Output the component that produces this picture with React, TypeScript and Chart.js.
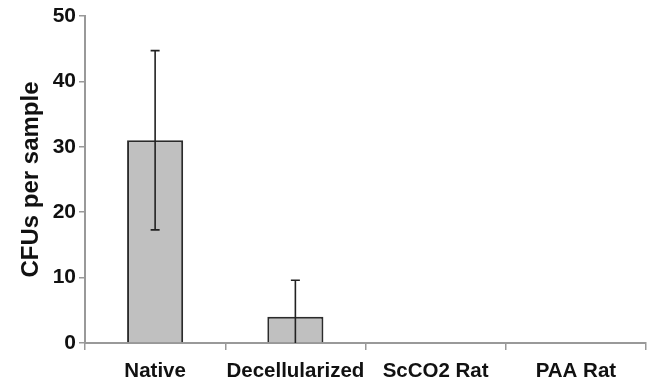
import React, { useEffect, useRef } from "react";
import { Chart, registerables } from "chart.js";

Chart.register(...registerables);

const categories = ["Native", "Decellularized", "ScCO2 Rat", "PAA Rat"];
const values = [31, 4, 0, 0];
const errors = [13.7, 5.6, 0, 0];
const yTicks = [0, 10, 20, 30, 40, 50];

const errorBarPlugin = {
  id: "errorBars",
  afterDatasetsDraw(chart: any) {
    const { ctx, chartArea } = chart;
    const meta = chart.getDatasetMeta(0);
    const y = chart.scales.y;
    ctx.save();
    ctx.beginPath();
    ctx.rect(chartArea.left, chartArea.top, chartArea.right - chartArea.left, chartArea.bottom - chartArea.top);
    ctx.clip();
    ctx.strokeStyle = "#222";
    ctx.lineWidth = 1.6;
    meta.data.forEach((bar: any, i: number) => {
      const e = errors[i];
      if (!e) return;
      const x = bar.x;
      const top = y.getPixelForValue(values[i] + e);
      const low = y.getPixelForValue(values[i] - e);
      ctx.beginPath();
      ctx.moveTo(x, top);
      ctx.lineTo(x, low);
      ctx.moveTo(x - 4.5, top);
      ctx.lineTo(x + 4.5, top);
      ctx.moveTo(x - 4.5, low);
      ctx.lineTo(x + 4.5, low);
      ctx.stroke();
    });
    ctx.restore();
  },
};

export default function App() {
  const ref = useRef<HTMLCanvasElement>(null);
  useEffect(() => {
    const font = "'Liberation Sans', Arial, sans-serif";
    const chart = new Chart(ref.current!, {
      type: "bar",
      data: {
        labels: categories,
        datasets: [
          {
            data: values,
            backgroundColor: "#c0c0c0",
            borderColor: "#2b2b2b",
            borderWidth: 2,
            barPercentage: 0.4,
            categoryPercentage: 1,
          },
        ],
      },
      options: {
        animation: false,
        responsive: false,
        maintainAspectRatio: false,
        layout: { padding: { top: 16, right: 3, left: 0, bottom: 0 } },
        plugins: { legend: { display: false }, tooltip: { enabled: false } },
        scales: {
          x: {
            offset: true,
            grid: {
              offset: true,
              drawOnChartArea: false,
              drawTicks: true,
              tickLength: 7,
              color: "#999",
              lineWidth: 1.5,
            },
            border: { display: true, color: "#999", width: 2 },
            ticks: {
              color: "#111",
              font: { family: font, size: 20.5, weight: "bold" },
              padding: 9,
              maxRotation: 0,
              autoSkip: false,
            },
            afterFit(scale: any) {
              scale.height = 41;
            },
          },
          y: {
            min: 0,
            max: 50,
            afterBuildTicks(scale: any) {
              scale.ticks = yTicks.map((v) => ({ value: v }));
            },
            grid: {
              drawOnChartArea: false,
              drawTicks: true,
              tickLength: 6,
              color: "#999",
              lineWidth: 1.5,
            },
            border: { display: true, color: "#999", width: 2 },
            ticks: {
              color: "#111",
              font: { family: font, size: 21, weight: "bold" },
              padding: 3,
            },
            title: {
              display: true,
              text: "CFUs per sample",
              color: "#111",
              font: { family: font, size: 24, weight: "bold" },
              padding: { top: 17, bottom: 0 },
            },
            afterFit(scale: any) {
              scale.width = 85;
            },
          },
        },
      },
      plugins: [errorBarPlugin],
    });
    return () => chart.destroy();
  }, []);
  return (
    <div style={{ position: "fixed", left: 0, top: 0, width: 649, height: 384, background: "#fff" }}>
      <canvas ref={ref} width={649} height={384} style={{ width: 649, height: 384 }} />
    </div>
  );
}
